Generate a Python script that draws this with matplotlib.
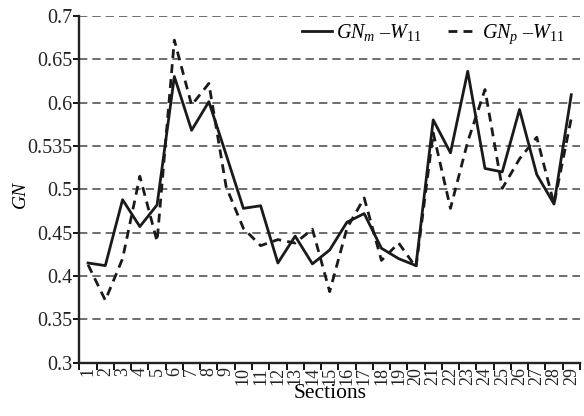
import matplotlib
matplotlib.use("Agg")
import matplotlib.pyplot as plt
import numpy as np

plt.rcParams['font.family'] = ['Liberation Serif', 'DejaVu Serif']
plt.rcParams['mathtext.fontset'] = 'custom'
plt.rcParams['mathtext.rm'] = 'Liberation Serif'
plt.rcParams['mathtext.it'] = 'Liberation Serif:italic'

sections = list(range(1, 30))
gn_m = [0.415, 0.412, 0.488, 0.457, 0.482, 0.630, 0.568, 0.601, 0.540, 0.478,
        0.481, 0.415, 0.446, 0.414, 0.430, 0.462, 0.472, 0.432, 0.420, 0.412,
        0.580, 0.542, 0.636, 0.524, 0.520, 0.592, 0.517, 0.483, 0.609]
gn_p = [0.413, 0.372, 0.420, 0.515, 0.440, 0.672, 0.597, 0.622, 0.503, 0.455,
        0.435, 0.442, 0.438, 0.454, 0.382, 0.455, 0.490, 0.418, 0.438, 0.410,
        0.565, 0.478, 0.555, 0.615, 0.501, 0.535, 0.560, 0.483, 0.582]
y_ticks = [0.3, 0.35, 0.4, 0.45, 0.5, 0.55, 0.6, 0.65, 0.7]
y_labels = ['0.3', '0.35', '0.4', '0.45', '0.5', '0.535', '0.6', '0.65', '0.7']

fig = plt.figure(figsize=(5.84, 4.16), dpi=100)
ax = fig.add_axes([0.136, 0.128, 0.857, 0.834])

ax.plot(sections, gn_m, color='#1a1a1a', lw=2.0, label=r'$GN_m$ –$W_{11}$')
ax.plot(sections, gn_p, color='#1a1a1a', lw=2.0, dashes=(3.2, 2.2),
        label=r'$GN_p$ –$W_{11}$')

ax.set_xlim(0.5, 29.5)
ax.set_ylim(0.3, 0.7)
ax.set_yticks(y_ticks)
ax.set_yticklabels(y_labels, fontsize=14.5, color='#222222')
ax.set_xticks(sections)
ax.set_xticklabels([str(s) for s in sections], rotation=90, fontsize=13,
                   color='#222222')
ax.set_xticks(np.arange(0.5, 30, 1), minor=True)
ax.tick_params(axis='x', which='major', length=0, pad=3)
ax.tick_params(axis='x', which='minor', length=5, width=1.3, direction='out')
ax.tick_params(axis='y', length=4, width=1.3, direction='out', pad=1)

for y in y_ticks[1:]:
    ax.axhline(y, color='#555555', lw=1.2, dashes=(5, 3), zorder=0)

for s in ['top', 'right']:
    ax.spines[s].set_visible(False)
for s in ['left', 'bottom']:
    ax.spines[s].set_linewidth(1.7)
    ax.spines[s].set_color('#222222')

ax.set_ylabel('GN', fontsize=14, style='italic', va='center')
ax.yaxis.set_label_coords(-0.118, 0.485)
ax.set_xlabel('Sections', fontsize=15.5, labelpad=-1)

ax.legend(loc='upper right', ncol=2, frameon=False, fontsize=14.5,
          handlelength=1.5, handletextpad=0.2, columnspacing=1.3,
          borderaxespad=0.1, bbox_to_anchor=(0.99, 1.01))

fig.savefig('out.png', dpi=100)
